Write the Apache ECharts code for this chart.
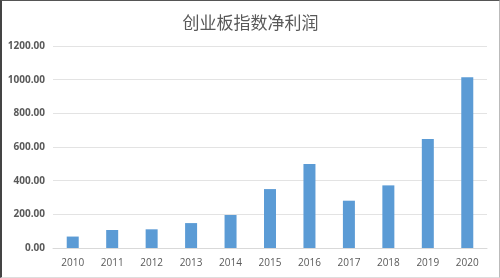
<!DOCTYPE html>
<html><head><meta charset="utf-8">
<script src="https://cdn.jsdelivr.net/npm/echarts@6/dist/echarts.min.js"></script>
<style>
html,body{margin:0;padding:0;background:#fff;}
#c{width:500px;height:278px;box-sizing:border-box;border-left:2px solid #444;border-top:1px solid #555;border-right:1px solid #bbb;border-bottom:1px solid #ddd;}
</style></head>
<body><div id="c"></div>
<script>
const categories = ['2010','2011','2012','2013','2014','2015','2016','2017','2018','2019','2020'];
const profit = [68, 107, 111, 148, 196, 350, 499, 281, 372, 647, 1015];
const yTicks = [0, 200, 400, 600, 800, 1000, 1200];

const chart = echarts.init(document.getElementById('c'));
chart.setOption({
  animation: false,
  title: {
    text: '创业板指数净利润', left: 'center', top: 8,
    textStyle: {fontFamily: 'Noto Sans CJK SC', fontSize: 17, fontWeight: 'normal', color: '#595959'}
  },
  grid: {left: 51, right: 12, top: 45, bottom: 29},
  xAxis: {
    type: 'category', data: categories,
    axisLine: {lineStyle: {color: '#d9d9d9'}},
    axisTick: {show: false},
    axisLabel: {color: '#595959', fontSize: 10, margin: 10, fontFamily: 'Open Sans'}
  },
  yAxis: {
    type: 'value', min: yTicks[0], max: yTicks[yTicks.length - 1], interval: 200,
    axisLine: {show: false}, axisTick: {show: false},
    splitLine: {lineStyle: {color: '#e3e3e3'}},
    axisLabel: {color: '#595959', fontSize: 10, margin: 8, fontFamily: 'Open Sans', fontWeight: 'bold',
      formatter: v => v.toFixed(2)}
  },
  series: [{
    type: 'bar', data: profit, barWidth: 12,
    itemStyle: {color: '#5b9bd5'}
  }]
});
</script></body></html>
